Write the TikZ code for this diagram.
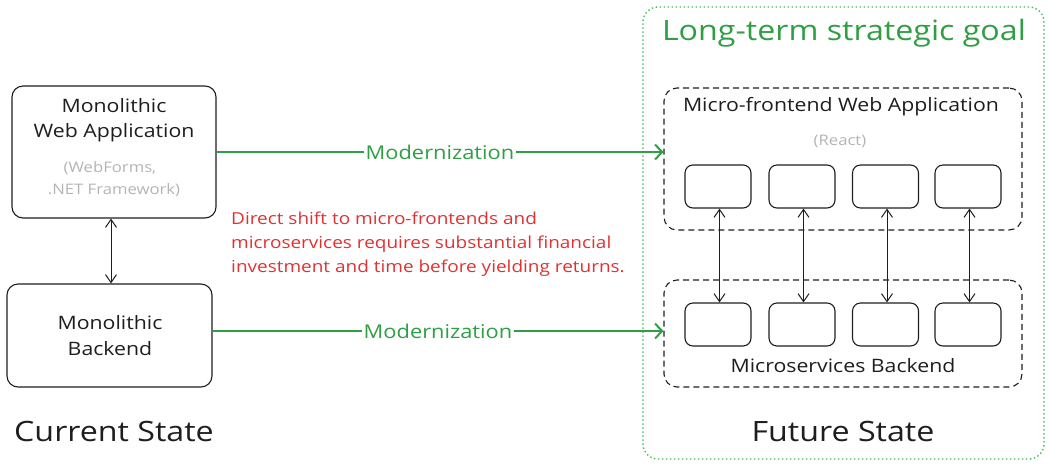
\documentclass[tikz,border=0pt]{standalone}
\usepackage{fontspec}
\setmainfont[FakeStretch=1.15]{Open Sans}
\usetikzlibrary{arrows.meta}
\definecolor{ink}{HTML}{1E1E1E}
\definecolor{grn}{HTML}{2F9E44}
\definecolor{grnl}{HTML}{40C057}
\definecolor{rd}{HTML}{E03131}
\definecolor{gry}{HTML}{B4B4B4}
\begin{document}
\begin{tikzpicture}[x=1pt,y=-1pt,
  box/.style={draw=ink, line width=1.1pt, rounded corners=11pt, inner sep=0pt},
  dbox/.style={draw=ink, line width=1.1pt, dash pattern=on 6pt off 4pt, rounded corners=13pt, inner sep=0pt},
  sbox/.style={draw=ink, line width=1.1pt, rounded corners=8pt, inner sep=0pt, minimum width=66pt, minimum height=43pt},
  gbox/.style={draw=grnl, line width=1.4pt, dash pattern=on 1.4pt off 2.6pt, rounded corners=15pt, inner sep=0pt},
  lbl/.style={text=ink, inner sep=0pt, font=\fontsize{18.5}{22}\selectfont},
  sub/.style={text=gry, inner sep=0pt, font=\fontsize{14.5}{17}\selectfont},
  big/.style={text=ink, inner sep=0pt, font=\fontsize{28}{32}\selectfont},
  garrow/.style={draw=grn, line width=2pt, -{Straight Barb[length=7pt,width=15pt,line width=2pt]}},
  glbl/.style={text=grn, fill=white, inner xsep=2pt, inner ysep=1pt, font=\fontsize{19}{22}\selectfont},
  darr/.style={draw=ink, line width=1pt, {Straight Barb[length=8pt,width=11pt]}-{Straight Barb[length=8pt,width=11pt]}}
]
\useasboundingbox (0,0) rectangle (1050,467);

% current state
\node[box, minimum width=204pt, minimum height=132pt] (mwa) at (114,152) {};
\node[lbl] (mwa1) at (114,106) {Monolithic};
\node[lbl] (mwa2) at (114,133) {Web Application};
\node[sub] (mwa3) at (110,168) {(WebForms,};
\node[sub] (mwa4) at (114,190) {.NET Framework)};

\node[box, minimum width=205pt, minimum height=103pt] (mb) at (109.5,335.5) {};
\node[lbl] (mb1) at (110,323) {Monolithic};
\node[lbl] (mb2) at (110,349) {Backend};

\draw[darr] (mwa.south -| 111,0) -- (mb.north -| 111,0);

\node[big] (cs) at (114,431) {Current State};

% future state
\node[gbox, minimum width=401pt, minimum height=452pt] (outer) at (843.5,233) {};
\node[text=grn, inner sep=0pt, font=\fontsize{28}{32}\selectfont] (goal) at (844,33) {Long-term strategic goal};

\node[dbox, minimum width=358pt, minimum height=142pt] (mfe) at (843,159) {};
\node[lbl] (mfel) at (841,107) {Micro-frontend Web Application};
\node[sub] (react) at (840,141) {(React)};

\node[dbox, minimum width=358pt, minimum height=107pt] (msb) at (843,333.5) {};
\node[lbl] (msbl) at (843,366) {Microservices Backend};

\foreach \i/\x in {1/718,2/802,3/885.5,4/968}{
  \node[sbox] (t\i) at (\x,186.5) {};
  \node[sbox] (b\i) at (\x,324.5) {};
}
\foreach \i in {1,2,3,4}{
  \draw[darr] ([xshift=1.5pt]t\i.south) -- ([xshift=1.5pt]b\i.north);
}

\node[big] (fs) at (843,431) {Future State};

% modernization arrows
\draw[garrow] (mwa.east) -- (mwa.east -| mfe.west) node[glbl, pos=0.5] (m1) {Modernization};
\draw[garrow] ([yshift=4.5pt]mb.east) -- ([yshift=4.5pt]mb.east -| msb.west) node[glbl, pos=0.5] (m2) {Modernization};

% note
\node[text=rd, anchor=north west, align=left, inner sep=0pt, font=\fontsize{16.5}{24}\selectfont] (note) at (231,212)
  {Direct shift to micro-frontends and\\microservices requires substantial financial\\investment and time before yielding returns.};
\end{tikzpicture}
\end{document}
